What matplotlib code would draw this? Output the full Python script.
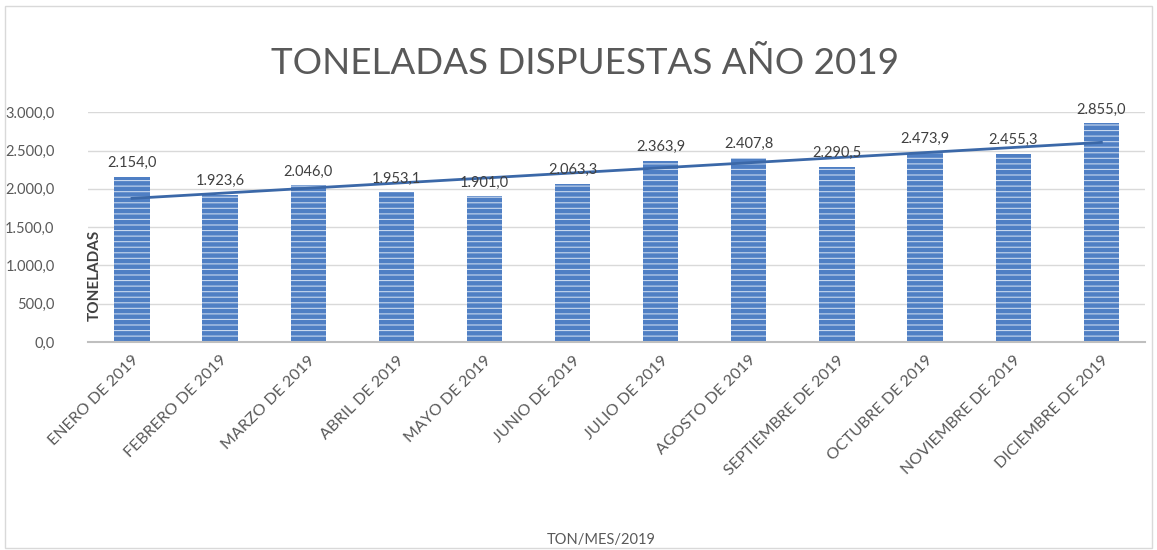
import matplotlib.pyplot as plt
import matplotlib.ticker as mticker
import numpy as np

months = ["ENERO DE 2019", "FEBRERO DE 2019", "MARZO DE 2019", "ABRIL DE 2019",
          "MAYO DE 2019", "JUNIO DE 2019", "JULIO DE 2019", "AGOSTO DE 2019",
          "SEPTIEMBRE DE 2019", "OCTUBRE DE 2019", "NOVIEMBRE DE 2019", "DICIEMBRE DE 2019"]
tons = [2154.0, 1923.6, 2046.0, 1953.1, 1901.0, 2063.3,
        2363.9, 2407.8, 2290.5, 2473.9, 2455.3, 2855.0]
yticks = [0, 500, 1000, 1500, 2000, 2500, 3000]

def fmt_es(v):
    s = "{:,.1f}".format(v)
    return s.replace(",", "X").replace(".", ",").replace("X", ".")

plt.rcParams['font.family'] = ['Lato', 'DejaVu Sans']
plt.rcParams['hatch.linewidth'] = 0.8
gray = "#595959"

fig = plt.figure(figsize=(11.57, 5.5), dpi=100)
ax = fig.add_axes([0.076, 0.378, 0.914, 0.418])

x = np.arange(len(months))
ax.bar(x, tons, width=0.4, color="#4f7fc4", edgecolor="#c8d8ee", linewidth=0,
       hatch="---", zorder=2)

# linear trend line
coef = np.polyfit(x, tons, 1)
ax.plot(x, np.polyval(coef, x), color="#3b68a8", lw=2, zorder=3)

for xi, v in zip(x, tons):
    ax.text(xi, v + 90, fmt_es(v), ha="center", va="bottom", fontsize=10.5, color="#404040")

ax.set_xlim(-0.5, len(months) - 0.5)
ax.set_ylim(0, 3000)
ax.set_yticks(yticks)
ax.yaxis.set_major_formatter(mticker.FuncFormatter(lambda v, p: fmt_es(v)))
ax.set_xticks(x)
ax.set_xticklabels(months, rotation=45, ha="right", rotation_mode="anchor",
                   fontsize=11.5, color=gray)
ax.tick_params(axis="y", length=0, labelsize=10.5, labelcolor=gray, pad=24)
ax.tick_params(axis="x", length=0, pad=8)
ax.grid(axis="y", color="#d9d9d9", lw=1, zorder=0)
for s in ["top", "right", "left"]:
    ax.spines[s].set_visible(False)
ax.spines["bottom"].set_color("#bfbfbf")
ax.spines["bottom"].set_linewidth(1.5)

fig.text(0.506, 0.885, "TONELADAS DISPUESTAS AÑO 2019", ha="center", va="center",
         fontsize=26.5, color=gray)
fig.text(0.082, 0.5, "TONELADAS", rotation=90, ha="center", va="center",
         fontsize=11, fontweight="bold", color="#404040")
fig.text(0.52, 0.018, "TON/MES/2019", ha="center", va="center", fontsize=10.5, color=gray)

fig.patches.append(plt.Rectangle((0.004, 0.004), 0.992, 0.985, transform=fig.transFigure,
                                 fill=False, edgecolor="#d9d9d9", lw=1))

fig.savefig("out.png", dpi=100)
